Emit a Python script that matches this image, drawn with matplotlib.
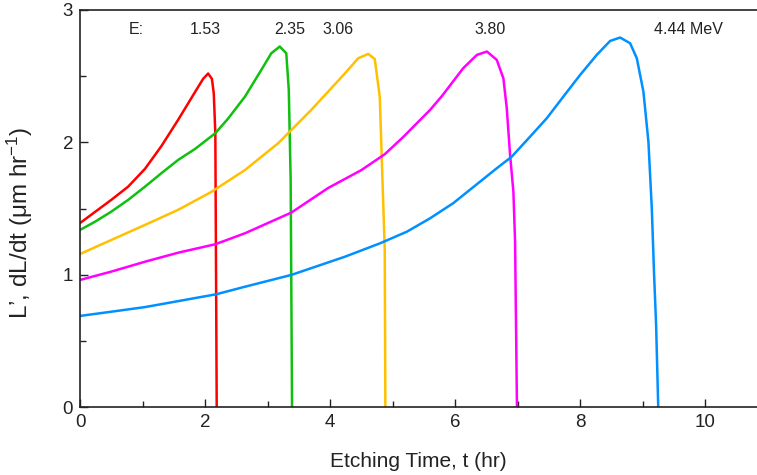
import matplotlib
matplotlib.use("Agg")
import matplotlib.pyplot as plt
from matplotlib.ticker import MultipleLocator

plt.rcParams['font.family'] = ['Liberation Sans', 'DejaVu Sans']
plt.rcParams['mathtext.fontset'] = 'custom'
plt.rcParams['mathtext.rm'] = 'Liberation Sans'
plt.rcParams['mathtext.it'] = 'Liberation Sans'

# Data (E = 1.53, 2.35, 3.06, 3.80, 4.44 MeV)
red_t = [0.0, 0.5, 0.77, 1.04, 1.30, 1.57, 1.84, 1.97, 2.05, 2.11, 2.14, 2.165, 2.187]
red_v = [1.39, 1.565, 1.665, 1.80, 1.97, 2.17, 2.38, 2.48, 2.52, 2.48, 2.37, 2.07, 0.0]

green_t = [0.0, 0.24, 0.5, 0.77, 1.04, 1.30, 1.57, 1.84, 2.165, 2.37, 2.64, 2.90, 3.06, 3.195, 3.30, 3.34, 3.37, 3.392]
green_v = [1.338, 1.40, 1.476, 1.565, 1.665, 1.766, 1.867, 1.95, 2.069, 2.18, 2.346, 2.547, 2.673, 2.724, 2.673, 2.396, 1.716, 0.0]

yellow_t = [0.0, 0.5, 1.04, 1.57, 2.10, 2.64, 3.17, 3.70, 4.24, 4.45, 4.61, 4.715, 4.795, 4.83, 4.875, 4.885]
yellow_v = [1.156, 1.262, 1.376, 1.49, 1.625, 1.791, 1.993, 2.245, 2.522, 2.635, 2.668, 2.63, 2.346, 1.842, 1.187, 0.0]

magenta_t = [0.0, 0.5, 1.04, 1.57, 2.165, 2.64, 3.38, 3.97, 4.50, 4.875, 5.17, 5.6, 5.79, 6.13, 6.35, 6.51,
             6.667, 6.773, 6.827, 6.88, 6.933, 6.96, 6.99]
magenta_v = [0.96, 1.023, 1.098, 1.166, 1.23, 1.313, 1.469, 1.655, 1.79, 1.91, 2.04, 2.245, 2.35, 2.56, 2.661, 2.686,
             2.623, 2.484, 2.258, 1.905, 1.627, 1.25, 0.0]

blue_t = [0.0, 0.5, 1.04, 1.57, 2.18, 2.64, 3.38, 4.24, 4.80, 5.23, 5.6, 5.97, 6.4, 6.667, 6.907, 7.2, 7.467,
          7.733, 8.0, 8.267, 8.48, 8.64, 8.8, 8.907, 9.013, 9.093, 9.147, 9.184, 9.216, 9.25]
blue_v = [0.688, 0.72, 0.755, 0.80, 0.852, 0.909, 0.998, 1.136, 1.237, 1.325, 1.426, 1.54, 1.703, 1.804, 1.892,
          2.043, 2.182, 2.346, 2.509, 2.661, 2.766, 2.792, 2.749, 2.636, 2.383, 2.005, 1.502, 0.998, 0.62, 0.0]

energy_labels = ["E:", "1.53", "2.35", "3.06", "3.80", "4.44 MeV"]
energy_label_t = [0.9, 2.0, 3.36, 4.13, 6.56, 9.73]

series = [
    (red_t, red_v, "#ff0000"),
    (green_t, green_v, "#10c010"),
    (yellow_t, yellow_v, "#ffc000"),
    (magenta_t, magenta_v, "#ff00ff"),
    (blue_t, blue_v, "#0090ff"),
]

fig = plt.figure(figsize=(7.57, 4.75), dpi=100)
ax = fig.add_axes([80/757, 1-407/475, 1-80/757, (407-10)/475])

for t, v, c in series:
    ax.plot(t, v, color=c, lw=1.8, solid_joinstyle='round')

for lab, x in zip(energy_labels, energy_label_t):
    ax.text(x, 2.85, lab, ha='center', va='center', fontsize=11.5, color='#222222')

ax.set_xlim(0, 10.83)
ax.set_ylim(0, 3)
ax.xaxis.set_major_locator(MultipleLocator(2))
ax.xaxis.set_minor_locator(MultipleLocator(1))
ax.yaxis.set_major_locator(MultipleLocator(1))
ax.yaxis.set_minor_locator(MultipleLocator(0.5))
ax.tick_params(which='both', direction='in', labelsize=13.5, colors='#222222')
ax.tick_params(which='major', length=6, width=1, pad=5)
ax.tick_params(which='minor', length=4, width=1)
ax.spines['right'].set_visible(False)
for s in ['left', 'bottom', 'top']:
    ax.spines[s].set_color('#222222')
    ax.spines[s].set_linewidth(1.2)

ax.set_xlabel("Etching Time, t (hr)", fontsize=15, color='#222222', labelpad=15)
ax.set_ylabel("L’, dL/dt (μm hr$^{-1}$)", fontsize=17.5, color='#222222')
ax.yaxis.set_label_coords(-0.066, 0.463)

fig.savefig("out.png", dpi=100)
